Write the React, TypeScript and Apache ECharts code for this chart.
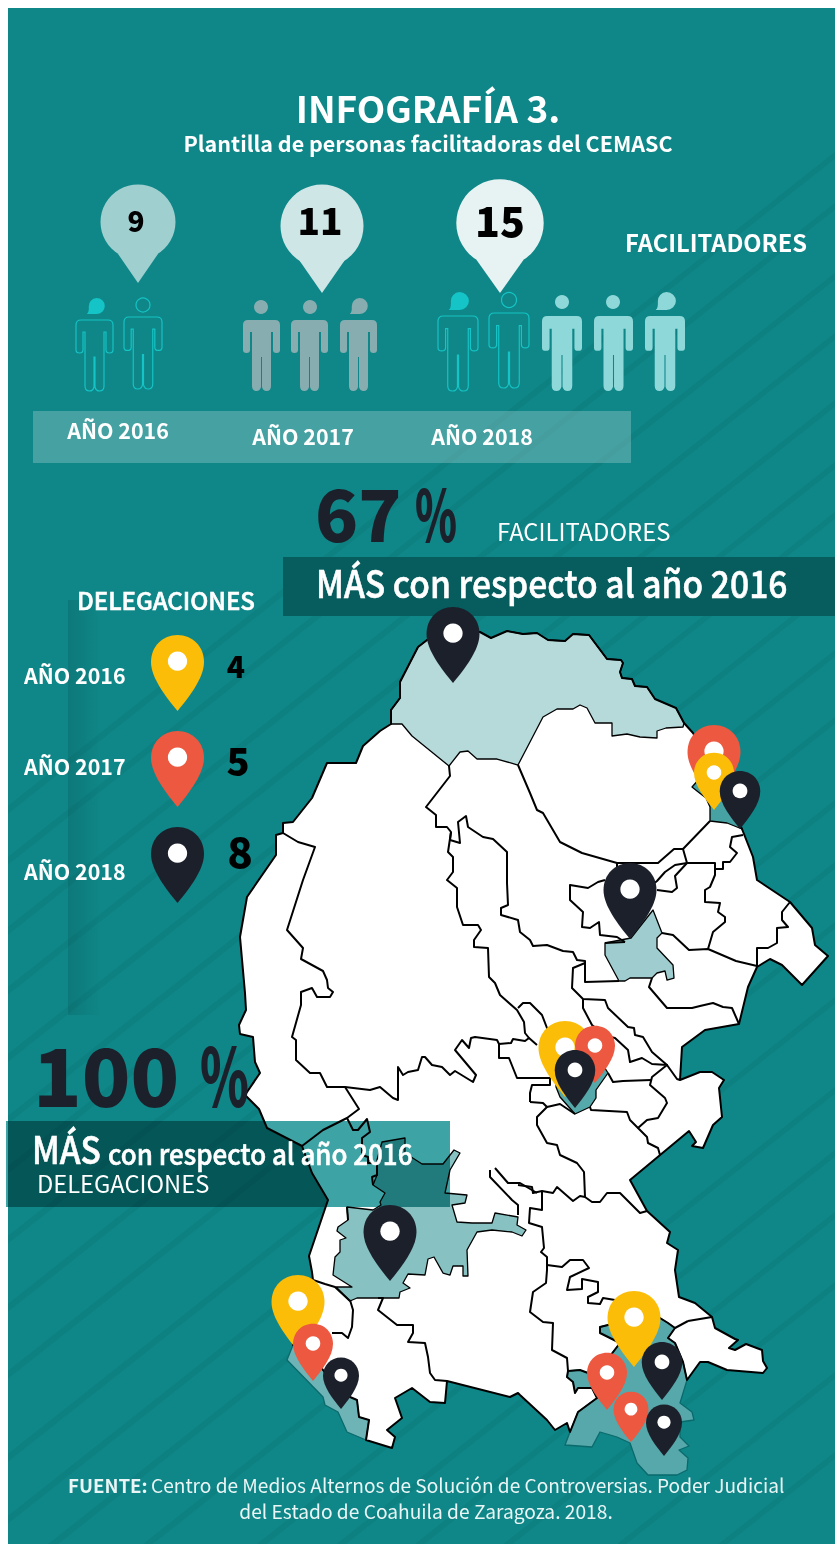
import React, { useEffect, useRef } from "react";
import * as echarts from "echarts";

const FONT = '"Noto Sans CJK SC", "Noto Sans", sans-serif';

const years = ["AÑO 2016", "AÑO 2017", "AÑO 2018"];
const facilitators = [9, 11, 15];
const delegations = [4, 5, 8];
const yearColors = ["#FBBD08", "#EC5840", "#1C202B"];

const bubbleX = [138, 322, 500];
const bubbleY = [222, 226, 223];
const bubbleR = [37.5, 41.5, 43.7];
const bubbleTip = [283, 293, 293];
const bubbleColor = ["#A0CFD0", "#CFE6E7", "#E7F3F3"];
const bubbleFont = [28, 37, 41];
const bubbleLabelX = [136, 320, 500];
const bubbleLabelY = [222, 222, 222];

// left, shoulderY, width, feetY, headX, headY, headR, headKind(0 circle,1 speech), look(0 outline,1 grey,2 aqua)
const people = [
  [76, 320, 37, 391, 96, 306, 8, 1, 0],
  [124, 317, 38, 389, 143, 305, 7, 0, 0],
  [243, 320, 37, 391, 261, 307, 7, 0, 1],
  [291, 320, 37, 391, 310, 307, 7, 0, 1],
  [340, 320, 37, 391, 359, 306, 8, 1, 1],
  [438, 316, 40, 391, 459, 301, 9, 1, 0],
  [489, 313, 40, 388, 509, 300, 7.5, 0, 0],
  [542, 316, 40, 391, 562, 302, 7, 0, 2],
  [594, 316, 39, 391, 613, 302, 7, 0, 2],
  [645, 316, 40, 391, 666, 301, 9, 1, 2],
];

// x, tipY, width, yearIndex — in drawing order
const pins = [
  [453, 683, 53, 2],
  [714, 801, 53, 1],
  [714, 810, 40, 0],
  [740, 829, 40.5, 2],
  [630, 939, 53, 2],
  [565, 1097, 53, 0],
  [595, 1083, 40, 1],
  [575, 1108, 40.5, 2],
  [390, 1281, 53, 2],
  [298, 1351, 53, 0],
  [313, 1381, 40, 1],
  [341, 1409, 36, 2],
  [634, 1367, 53, 0],
  [662, 1400, 40.5, 2],
  [607, 1410, 40, 1],
  [631, 1442, 35, 1],
  [664, 1456, 36, 2],
];
const legendPins = [
  [177.5, 711, 53, 0],
  [177.5, 807, 53, 1],
  [177.5, 903, 53, 2],
];

const stateOutline = [[391,724],[391,710],[400,698],[400,682],[418,647],[427,640],[450,630],[480,632],[491,638],[507,631],[523,634],[537,633],[548,640],[565,641],[573,634],[589,635],[607,659],[621,660],[623,663],[620,672],[622,678],[632,679],[635,686],[647,687],[655,699],[676,708],[684,723],[693,733],[700,745],[708,765],[722,790],[742,829],[753,857],[757,880],[790,902],[812,928],[815,945],[828,956],[802,985],[782,965],[770,959],[757,967],[748,987],[739,1024],[705,1030],[682,1047],[680,1080],[700,1072],[712,1072],[724,1080],[719,1088],[722,1117],[713,1125],[703,1148],[692,1146],[696,1142],[689,1131],[630,1180],[647,1211],[670,1232],[667,1243],[678,1250],[675,1270],[679,1297],[695,1303],[712,1317],[715,1328],[735,1339],[738,1340],[729,1348],[735,1350],[746,1344],[762,1350],[763,1361],[767,1368],[763,1373],[727,1370],[708,1362],[700,1362],[687,1380],[683,1362],[675,1343],[668,1338],[675,1328],[668,1323],[660,1318],[630,1322],[608,1325],[600,1327],[600,1333],[620,1343],[607,1360],[588,1373],[580,1370],[568,1371],[567,1377],[573,1382],[575,1393],[578,1388],[592,1388],[597,1398],[578,1412],[570,1432],[567,1423],[555,1430],[547,1420],[520,1395],[518,1393],[510,1397],[447,1381],[445,1403],[430,1402],[412,1388],[395,1398],[402,1418],[387,1430],[395,1437],[392,1448],[366,1440],[369,1420],[359,1417],[357,1400],[350,1397],[335,1385],[323,1370],[305,1345],[293,1345],[300,1310],[313,1280],[312,1272],[309,1256],[328,1200],[312,1173],[302,1146],[267,1128],[259,1109],[245,1095],[260,1073],[255,1062],[253,1037],[240,1034],[239,1025],[246,1010],[245,993],[240,937],[247,897],[276,855],[276,835],[283,833],[283,823],[293,822],[312,798],[327,763],[356,763],[363,746],[380,731]];

const acunaArea = [[391,724],[391,710],[400,698],[400,682],[418,647],[427,640],[450,630],[480,632],[491,638],[507,631],[523,634],[537,633],[548,640],[565,641],[573,634],[589,635],[607,659],[621,660],[623,663],[620,672],[622,678],[632,679],[635,686],[647,687],[655,699],[676,708],[684,723],[683,727],[666,728],[657,731],[657,738],[640,737],[627,734],[612,736],[612,723],[595,723],[587,708],[580,705],[573,709],[557,709],[543,717],[530,742],[518,765],[497,759],[477,759],[468,751],[460,752],[449,766],[412,736],[402,724]];
const northEastArea = [[692,787],[697,791],[706,798],[710,807],[710,821],[727,823],[742,829],[730,800],[715,780],[700,778]];
const monclovaArea = [[605,943],[605,955],[619,981],[625,981],[630,978],[652,978],[657,973],[665,971],[667,980],[674,978],[673,965],[657,948],[657,938],[662,933],[653,910],[631,938]];
const centerArea = [[556,1087],[560,1097],[575,1114],[590,1107],[596,1098],[596,1090],[608,1073],[600,1060],[570,1055],[556,1060]];
const parrasArea = [[347,1207],[373,1210],[381,1205],[380,1202],[385,1193],[373,1185],[377,1175],[377,1160],[382,1142],[405,1138],[405,1153],[422,1164],[443,1164],[454,1150],[460,1153],[450,1170],[445,1193],[467,1195],[465,1203],[452,1205],[457,1222],[472,1223],[492,1223],[495,1213],[518,1217],[517,1225],[526,1230],[522,1236],[512,1232],[492,1230],[477,1232],[467,1250],[468,1276],[463,1276],[463,1266],[453,1266],[450,1275],[443,1273],[434,1257],[428,1259],[425,1275],[408,1274],[403,1283],[410,1288],[400,1292],[399,1298],[357,1298],[350,1301],[336,1287],[352,1287],[333,1275],[335,1257],[340,1252],[340,1240],[346,1238],[337,1231],[338,1227],[348,1220]];
const southWestArea = [[293,1345],[287,1360],[323,1397],[325,1405],[338,1412],[347,1432],[366,1440],[369,1420],[359,1417],[357,1400],[350,1397],[335,1385],[323,1370],[305,1345]];
const southEastArea = [[660,1318],[668,1323],[675,1328],[668,1338],[675,1343],[683,1362],[687,1380],[680,1403],[692,1412],[694,1420],[680,1422],[680,1437],[689,1446],[679,1450],[688,1458],[687,1470],[677,1475],[648,1475],[637,1463],[630,1443],[617,1437],[600,1432],[592,1447],[565,1445],[570,1432],[578,1412],[597,1398],[592,1388],[578,1388],[575,1393],[573,1382],[567,1377],[568,1371],[580,1370],[588,1373],[607,1360],[620,1343],[600,1333],[600,1327],[608,1325],[630,1322]];

const municipalBorders = [
  [[283,833],[298,842],[315,847],[303,880],[287,930],[303,948],[301,959],[323,971],[327,980],[328,988],[333,992],[330,997],[317,997],[312,988],[301,992],[301,1005],[292,1037],[296,1040],[296,1060],[310,1073],[320,1073],[327,1087],[345,1087],[370,1090],[380,1087],[393,1098],[398,1100],[398,1067],[403,1075],[408,1072],[418,1070],[422,1057],[425,1057],[432,1065],[442,1067],[450,1075],[455,1071],[473,1082],[476,1075],[455,1050],[462,1040],[469,1048],[471,1038],[475,1037],[497,1040],[499,1044],[511,1043],[513,1039],[525,1041],[529,1038],[537,1045]],
  [[449,766],[450,776],[426,807],[436,815],[436,827],[447,827],[451,832],[448,852],[453,857],[453,872],[447,880],[457,888],[457,907],[463,925],[478,925],[481,930],[474,940],[474,947],[488,948],[489,977],[495,983],[500,995],[517,1010],[524,1022],[525,1033],[529,1038]],
  [[451,832],[450,840],[460,843],[458,822],[466,816],[468,827],[483,837],[493,839],[507,852],[507,883],[508,905],[501,908],[501,915],[518,920],[520,932],[530,940],[533,946],[547,945],[563,951],[573,952],[577,960],[585,961],[585,982],[619,981]],
  [[518,765],[530,793],[537,810],[543,813],[560,842],[582,853],[617,863],[658,863],[674,849],[683,849],[710,821]],
  [[683,849],[687,863],[715,863],[715,875],[710,887],[705,890],[705,902],[720,903],[718,912],[725,917],[725,922],[713,932],[708,949]],
  [[687,863],[675,865],[665,872],[657,881],[647,889]],
  [[687,863],[675,876],[677,888],[672,892],[657,890]],
  [[715,869],[723,869],[723,862],[730,862],[737,853],[730,847],[732,837],[743,835]],
  [[790,902],[782,912],[782,920],[788,927],[777,928],[777,943],[768,948],[757,948],[757,967]],
  [[662,933],[673,935],[689,950],[708,949],[736,961],[757,966]],
  [[617,863],[617,868]],
  [[605,880],[598,882],[588,888],[570,885],[570,900],[583,912],[582,927],[590,928],[599,922],[600,935],[617,937],[625,942]],
  [[625,942],[605,943]],
  [[652,978],[649,987],[667,1008],[692,1008],[700,1006],[713,1003],[723,1007],[732,1008],[739,1024]],
  [[585,963],[573,968],[572,988],[583,999],[605,1000],[608,1008],[628,1027],[634,1028],[635,1035],[643,1037],[652,1052],[667,1065],[677,1079],[680,1080]],
  [[583,999],[583,1008],[592,1025],[606,1036],[615,1038],[628,1050],[630,1062],[642,1058],[652,1064],[667,1065],[652,1077],[650,1085],[665,1098],[667,1103],[658,1118],[647,1120],[638,1128],[647,1137],[648,1143],[658,1148],[660,1155]],
  [[651,1080],[623,1081],[613,1082],[608,1073]],
  [[590,1107],[591,1110],[627,1112],[630,1120],[638,1128]],
  [[575,1114],[560,1104],[547,1107],[543,1103],[530,1102]],
  [[547,1107],[537,1117],[537,1125],[547,1143],[557,1145],[560,1155],[577,1163],[584,1172],[585,1197]],
  [[518,1185],[532,1187],[533,1193],[542,1191],[553,1193],[557,1187],[573,1201],[580,1196],[585,1197],[592,1202],[600,1202],[607,1193],[620,1193],[640,1213],[647,1211]],
  [[542,1191],[542,1210],[530,1208],[529,1223],[542,1227],[544,1248],[541,1252],[547,1257],[547,1270],[546,1283],[533,1292],[530,1312],[543,1322],[553,1323],[552,1350],[567,1358],[568,1371]],
  [[547,1265],[562,1267],[570,1260],[583,1260],[589,1268],[570,1277],[567,1290],[582,1289],[582,1279],[598,1282],[598,1292],[588,1297],[588,1303],[600,1304],[603,1298],[615,1300]],
  [[490,1170],[490,1177],[512,1200],[518,1205],[518,1215]],
  [[495,1168],[508,1183],[520,1183],[537,1193]],
  [[378,1298],[383,1298],[378,1310],[397,1325],[413,1325],[413,1333],[408,1342],[425,1343],[428,1357],[430,1373],[435,1380],[447,1381]],
  [[345,1087],[359,1109],[347,1118],[323,1130],[302,1146]],
  [[347,1118],[353,1130],[358,1130],[367,1119],[370,1132],[362,1138],[362,1155],[368,1157],[368,1163],[377,1163],[377,1175],[372,1177],[373,1185]],
  [[347,1207],[348,1220]],
  [[332,1333],[342,1333],[348,1338],[352,1327],[353,1310],[350,1300]],
  [[350,1301],[335,1287],[325,1284],[313,1280]],
  [[688,1321],[675,1328]],
  [[712,1317],[688,1321]],
  [[499,1044],[499,1058],[509,1058],[517,1078],[528,1078],[550,1078],[550,1085],[532,1085],[530,1093],[530,1102]],
  [[518,1008],[523,1003],[530,1003],[542,1015],[547,1028],[553,1040]],
];

const areaFills = [
  { points: acunaArea, fill: "#B6D9DA", stroke: "#000" },
  { points: northEastArea, fill: "#46A2A3", stroke: "#000" },
  { points: monclovaArea, fill: "#9FCDCF", stroke: "#000" },
  { points: centerArea, fill: "#56A9AA", stroke: "#000" },
  { points: parrasArea, fill: "#87C1C1", stroke: "#000" },
  { points: southWestArea, fill: "#6EB4B7", stroke: "#0A6A6C" },
  { points: southEastArea, fill: "#57A8AA", stroke: "#0A6A6C" },
];

const stripeOffsets = [820, 871, 941, 1001, 1068, 1130, 1180, 1250, 1318, 1385, 1468, 1530, 1590, 1665, 1755, 1818, 1880, 1950, 2040, 2120];

const PIN = "M26.5 0C41.5 0 53 11.5 53 27C53 43 38 62 26.5 76C15 62 0 43 0 27C0 11.5 11.5 0 26.5 0Z";
const BODY = "M5 0H32Q37 0 37 5V30Q37 33 33.5 33Q30 33 30 30V12H28V66Q28 71 23.5 71Q20 71 19 67V37H18V67Q17 71 13.5 71Q9 71 9 66V12H7V30Q7 33 3.5 33Q0 33 0 30V5Q0 0 5 0Z";
const SPEECH = "M10 0A8.5 8.5 0 1 1 10 17H0Q2.5 15 2 9A8.5 8.5 0 0 1 10 0Z";
const BANNER_FILL = "#3EA3A4";

function T(text: string, x: number, y: number, size: number, weight: any, fill: string, align = "left", scaleX = 1) {
  const medium = weight === "500" ? { stroke: fill, lineWidth: 0.6 } : {};
  return {
    type: "text",
    z: 20,
    x,
    y: y - size * 0.07,
    scaleX,
    style: { text, x: 0, y: 0, fill, font: `${weight} ${size}px ${FONT}`, align, verticalAlign: "middle", ...medium },
    silent: true,
  };
}

function pinElements(data: number[][], api: any, idx: number) {
  const [x, tip, w, yi] = data[idx];
  const h = (w * 76) / 53;
  const [px, py] = api.coord([x, tip]);
  return {
    type: "group",
    children: [
      { type: "path", shape: { pathData: PIN, x: px - w / 2, y: py - h, width: w, height: h, layout: "cover" }, style: { fill: yearColors[yi] } },
      { type: "circle", shape: { cx: px, cy: py - h + h * 0.345, r: w * 0.182 }, style: { fill: "#fff" } },
    ],
  };
}

export default function App() {
  const ref = useRef<HTMLDivElement>(null);
  useEffect(() => {
    const chart = echarts.init(ref.current!, undefined, { renderer: "svg" });

    const stripes = stripeOffsets.map((c) => ({
      type: "polygon",
      z: 1,
      silent: true,
      shape: { points: [[8, c - 6.4], [835, c - 661.6], [835, c - 668], [8, c - 14]] },
      style: { fill: "rgba(0,60,60,0.07)" },
    }));

    chart.setOption({
      animation: false,
      grid: { left: 0, right: 0, top: 0, bottom: 0 },
      xAxis: { type: "value", min: 0, max: 835, show: false },
      yAxis: { type: "value", min: 0, max: 1544, inverse: true, show: false },
      graphic: {
        elements: [
          { type: "rect", z: 0, silent: true, shape: { x: 0, y: 0, width: 835, height: 1544 }, style: { fill: "#fff" } },
          { type: "rect", z: 0, silent: true, shape: { x: 8, y: 8, width: 827, height: 1536 }, style: { fill: "#0F8687" } },
          ...stripes,
          { type: "rect", z: 1, silent: true, shape: { x: 68, y: 600, width: 32, height: 415 },
            style: { fill: { type: "linear", x: 0, y: 0, x2: 1, y2: 0, colorStops: [{ offset: 0, color: "rgba(0,30,30,0.13)" }, { offset: 1, color: "rgba(0,30,30,0)" }] } } },
          { type: "rect", z: 1, silent: true, shape: { x: 33, y: 411, width: 598, height: 52 }, style: { fill: "rgba(255,255,255,0.23)" } },
          { type: "rect", z: 1, silent: true, shape: { x: 283, y: 557, width: 552, height: 59 }, style: { fill: "#075C5E" } },
          { type: "rect", z: 3, silent: true, shape: { x: 6, y: 1121, width: 444, height: 86 }, style: { fill: BANNER_FILL } },

          T("INFOGRAFÍA 3.", 428, 110, 37, "bold", "#fff", "center"),
          T("Plantilla de personas facilitadoras del CEMASC", 428, 144, 21.5, "bold", "#fff", "center"),
          T("FACILITADORES", 716, 244, 23.7, "bold", "#fff", "center"),
          T(years[0], 118, 431, 21.4, "bold", "#fff", "center"),
          T(years[1], 303, 437, 21.4, "bold", "#fff", "center"),
          T(years[2], 482, 437, 21.4, "bold", "#fff", "center"),
          T("67", 315, 516, 71, 900, "#1C202B", "left"),
          T("%", 415, 516, 71, 900, "#1C202B", "left", 0.6),
          T("FACILITADORES", 497, 532, 23.8, "normal", "#fff"),
          T("MÁS con respecto al año 2016", 316, 584, 38, "500", "#fff", "left", 0.885),
          T("DELEGACIONES", 77, 601, 24, "500", "#fff"),
          T(years[0], 24, 676, 21.4, "bold", "#fff"),
          T(years[1], 24, 767, 21.4, "bold", "#fff"),
          T(years[2], 24, 872, 21.4, "bold", "#fff"),
          T(String(delegations[0]), 236, 667, 30, 900, "#000", "center"),
          T(String(delegations[1]), 238, 762, 38, 900, "#000", "center"),
          T(String(delegations[2]), 240, 852, 42, 900, "#000", "center"),
          T("100", 33, 1078, 80, 900, "#1C202B"),
          T("%", 200, 1078, 80, 900, "#1C202B", "left", 0.62),
          T("MÁS", 32, 1150, 38, "500", "#fff", "left", 0.88),
          T("con respecto al año 2016", 108, 1154, 29, "500", "#fff", "left", 0.895),
          T("DELEGACIONES", 37, 1185, 23.7, "normal", "#fff"),
          T("FUENTE:", 68, 1486, 18.7, "bold", "#EAF5F5"),
          T("Centro de Medios Alternos de Solución de Controversias. Poder Judicial", 151, 1486, 19.1, "normal", "#EAF5F5"),
          T("del Estado de Coahuila de Zaragoza. 2018.", 426, 1512, 19.2, "normal", "#EAF5F5", "center"),
        ],
      },
      series: [
        {
          type: "custom",
          z: 2,
          silent: true,
          coordinateSystem: "cartesian2d",
          data: [[0, 0]],
          renderItem: (_p: any, api: any) => {
            const pts = (a: number[][]) => a.map((q) => api.coord(q));
            const line = { lineWidth: 2, lineJoin: "round" };
            return {
              type: "group",
              children: [
                { type: "polygon", shape: { points: pts(stateOutline) }, style: { fill: "#fff" } },
                ...areaFills.map((a) => ({ type: "polygon", shape: { points: pts(a.points) }, style: { fill: a.fill, stroke: a.stroke, lineWidth: 1.3, lineJoin: "round" } })),
                { type: "polygon", shape: { points: pts(stateOutline) }, style: { fill: "none", stroke: "#000", ...line } },
                ...municipalBorders.map((b) => ({ type: "polyline", shape: { points: pts(b) }, style: { fill: "none", stroke: "#000", ...line } })),
              ],
            };
          },
        },
        {
          type: "custom",
          z: 5,
          silent: true,
          coordinateSystem: "cartesian2d",
          data: pins.map((p, i) => [p[0], p[1], i]),
          renderItem: (_p: any, api: any) => pinElements(pins, api, api.value(2)),
        },
        {
          type: "custom",
          z: 5,
          silent: true,
          coordinateSystem: "cartesian2d",
          data: legendPins.map((p, i) => [p[0], p[1], i]),
          renderItem: (_p: any, api: any) => pinElements(legendPins, api, api.value(2)),
        },
        {
          type: "custom",
          z: 6,
          silent: true,
          coordinateSystem: "cartesian2d",
          data: facilitators.map((v, i) => [bubbleX[i], bubbleY[i], v, i]),
          renderItem: (_p: any, api: any) => {
            const i = api.value(3);
            const [cx, cy] = api.coord([api.value(0), api.value(1)]);
            const r = bubbleR[i];
            const tip = api.coord([0, bubbleTip[i]])[1];
            const by = cy + r * 0.84;
            const bx = r * 0.54;
            return {
              type: "group",
              children: [
                { type: "circle", shape: { cx, cy, r }, style: { fill: bubbleColor[i] } },
                { type: "polygon", shape: { points: [[cx - bx, by], [cx + bx, by], [cx, tip]] }, style: { fill: bubbleColor[i] } },
                { type: "text", style: { text: String(api.value(2)), x: bubbleLabelX[i], y: bubbleLabelY[i] - bubbleFont[i] * 0.07, fill: "#000", font: `900 ${bubbleFont[i]}px ${FONT}`, align: "center", verticalAlign: "middle" } },
              ],
            };
          },
        },
        {
          type: "custom",
          z: 6,
          silent: true,
          coordinateSystem: "cartesian2d",
          data: people.map((p, i) => [p[0], p[1], i]),
          renderItem: (_p: any, api: any) => {
            const [l, top, w, feet, hx, hy, hr, kind, look] = people[api.value(2)];
            const [x, y] = api.coord([l, top]);
            const y2 = api.coord([l, feet])[1];
            const [cx, cy] = api.coord([hx, hy]);
            const body = look === 0 ? { fill: "none", stroke: "#14C4C6", lineWidth: 1.2 } : { fill: look === 1 ? "#88ADB0" : "#8FD8D9" };
            const head = look === 0 && kind === 1 ? { fill: "#14C4C6" } : body;
            return {
              type: "group",
              children: [
                { type: "path", shape: { pathData: BODY, x, y, width: w, height: y2 - y, layout: "cover" }, style: body },
                kind === 1
                  ? { type: "path", shape: { pathData: SPEECH, x: cx - hr * 1.15, y: cy - hr, width: hr * 2.25, height: hr * 2, layout: "cover" }, style: head }
                  : { type: "circle", shape: { cx, cy, r: hr }, style: head },
              ],
            };
          },
        },
      ],
    });
    // the banner multiplies over what lies beneath it, as in the reference
    ref.current!.querySelectorAll(`[fill="${BANNER_FILL}"]`).forEach((n) => {
      (n as HTMLElement).style.mixBlendMode = "multiply";
    });
    return () => chart.dispose();
  }, []);
  return <div ref={ref} style={{ position: "absolute", left: 0, top: 0, width: 835, height: 1544 }} />;
}
